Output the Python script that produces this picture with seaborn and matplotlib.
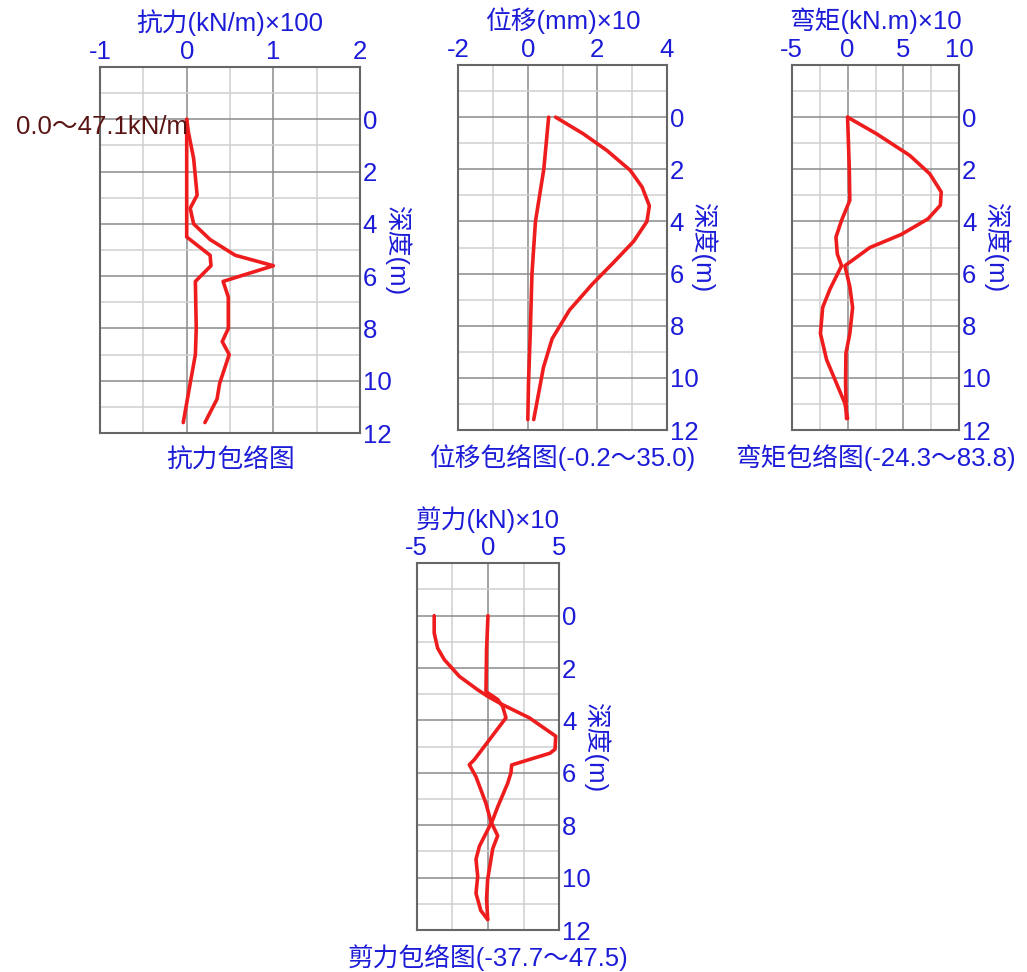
import matplotlib
matplotlib.use('Agg')
import matplotlib.pyplot as plt
from matplotlib.transforms import offset_copy
import seaborn as sns

# --- data (depth in m, values in scaled units) ---
# resistance (kN/m x100)
res_min_depth = [0, 4.5, 5.2, 5.6, 6.2, 8.0, 9.0, 10.1, 11.6]
res_min_val = [0, 0, 0.27, 0.28, 0.10, 0.11, 0.10, 0.04, -0.04]
res_max_depth = [0, 0.5, 1.5, 2.9, 3.4, 4.0, 4.6, 5.2, 5.6, 6.2, 6.8, 8.0, 8.5, 9.0, 10.1, 10.7, 11.6]
res_max_val = [0, 0.02, 0.08, 0.12, 0.04, 0.08, 0.27, 0.56, 1.0, 0.42, 0.48, 0.48, 0.41, 0.49, 0.38, 0.35, 0.21]

# displacement (mm x10)
dis_min_depth = [0, 2, 4, 6, 8.3, 10.2, 11.6]
dis_min_val = [0.6, 0.46, 0.22, 0.12, 0.07, 0.02, 0.0]
dis_max_depth = [0, 0.64, 1.28, 2.04, 2.68, 3.4, 4.0, 4.76, 5.6, 6.4, 7.4, 8.5, 9.6, 11.6]
dis_max_val = [0.8, 1.6, 2.28, 2.95, 3.29, 3.5, 3.43, 3.05, 2.45, 1.86, 1.2, 0.7, 0.45, 0.17]

# moment (kN.m x10)
mom_max_depth = [0, 0.64, 1.47, 2.17, 2.87, 3.38, 3.9, 4.5, 5.0, 5.7, 6.5, 7.3, 8.3, 9.06, 10.2, 11.56]
mom_max_val = [0, 2.6, 5.57, 7.35, 8.38, 8.3, 7.2, 4.8, 2.0, -0.24, 0.2, 0.45, 0.2, -0.15, -0.18, -0.1]
mom_min_depth = [0, 1.91, 3.19, 3.96, 4.6, 5.25, 5.7, 6.6, 7.3, 8.3, 9.3, 10.98, 11.56]
mom_min_val = [0, 0.15, 0.2, -0.54, -1.04, -0.92, -0.54, -1.58, -2.23, -2.43, -1.88, -0.24, 0]

# shear (kN x10)
shr_a_depth = [0, 0.66, 1.24, 1.68, 2.32, 2.83, 3.08, 3.4, 3.9, 4.6, 5.1, 5.25, 5.7, 6.0, 6.4, 7.3,
               7.8, 8.05, 8.8, 9.3, 9.95, 10.6, 11.26, 11.6]
shr_a_val = [-3.77, -3.77, -3.53, -3.06, -2.0, -0.72, -0.02, 1.03, 2.9, 4.75, 4.7, 4.35, 1.66, 1.61,
             1.38, 0.68, 0.33, 0.1, -0.6, -0.84, -0.72, -0.84, -0.5, -0.02]
shr_b_depth = [0, 1.3, 2.9, 3.2, 3.47, 3.9, 5.5, 5.69, 6.15, 7.17, 7.87, 8.4, 8.9, 10.06, 10.8, 11.6]
shr_b_val = [0, -0.1, -0.14, 0.68, 1.03, 1.26, -0.96, -1.31, -0.84, -0.14, 0.21, 0.68, 0.33, -0.02, -0.1, -0.02]

panels = [
    # name, axes rect, x major ticks, x minor, title, bottom label, series
    ('res', [0.0974, 0.5545, 0.2532, 0.3765], [-1, 0, 1, 2], [-0.5, 0.5, 1.5],
     '抗力(kN/m)×100', '抗力包络图',
     [(res_min_val, res_min_depth), (res_max_val, res_max_depth)]),
    ('dis', [0.4463, 0.5576, 0.2029, 0.3755], [-2, 0, 2, 4], [-1, 1, 3],
     '位移(mm)×10', '位移包络图(-0.2～35.0)',
     [(dis_min_val, dis_min_depth), (dis_max_val, dis_max_depth)]),
    ('mom', [0.7709, 0.5576, 0.1632, 0.3755], [-5, 0, 5, 10], [-2.5, 2.5, 7.5],
     '弯矩(kN.m)×10', '弯矩包络图(-24.3～83.8)',
     [(mom_max_val, mom_max_depth), (mom_min_val, mom_min_depth)]),
    ('shr', [0.4057, 0.0432, 0.1389, 0.3773], [-5, 0, 5], [-2.5, 2.5],
     '剪力(kN)×10', '剪力包络图(-37.7～47.5)',
     [(shr_a_val, shr_a_depth), (shr_b_val, shr_b_depth)]),
]

sns.set_style('white')
plt.rcParams['font.family'] = ['Liberation Sans', 'Noto Sans CJK SC', 'DejaVu Sans']
plt.rcParams['axes.unicode_minus'] = False

BLUE = '#1c1cd8'
RED = '#ee1c1c'
fs = 18.5

fig = plt.figure(figsize=(10.27, 9.72), dpi=100)

for name, rect, xmaj, xmin, title, bottom, series in panels:
    ax = fig.add_axes(rect)
    for vals, depth in series:
        sns.lineplot(x=vals, y=depth, sort=False, estimator=None, color=RED,
                     linewidth=2.6, ax=ax)
    ax.set_xlim(xmaj[0], xmaj[-1])
    ax.set_ylim(12, -2)
    ax.set_xticks(xmaj)
    ax.set_xticks(xmin, minor=True)
    ax.set_yticks(range(0, 13, 2))
    ax.set_yticks(range(-1, 12, 2), minor=True)
    ax.xaxis.tick_top()
    ax.yaxis.tick_right()
    ax.tick_params(which='both', length=0, labelsize=fs, labelcolor=BLUE, pad=2)
    ax.grid(which='major', color='#8a8a8a', linewidth=1.1)
    ax.grid(which='minor', color='#d0d0d0', linewidth=1.1)
    ax.set_axisbelow(True)
    for sp in ax.spines.values():
        sp.set_color('#666666')
        sp.set_linewidth(1.5)
        sp.set_visible(True)
    ax.set_xlabel('')
    ax.set_ylabel('')

    t_top = offset_copy(ax.transAxes, fig=fig, x=0, y=44, units='dots')
    ax.text(0.5, 1, title, transform=t_top, ha='center', va='center',
            fontsize=fs, color=BLUE)
    t_bot = offset_copy(ax.transAxes, fig=fig, x=0, y=-28, units='dots')
    ax.text(0.5, 0, bottom, transform=t_bot, ha='center', va='center',
            fontsize=fs, color=BLUE)
    t_right = offset_copy(ax.transAxes, fig=fig, x=37, y=0, units='dots')
    ax.text(1, 0.5, '深度(m)', transform=t_right, ha='center', va='center',
            rotation=270, fontsize=fs, color=BLUE)

    if name == 'res':
        ax.text(0.02, 0.3, '0.0～47.1kN/m', ha='right', va='center', fontsize=fs,
                color='#5a1414', clip_on=False)

fig.savefig('out.png', dpi=100)
